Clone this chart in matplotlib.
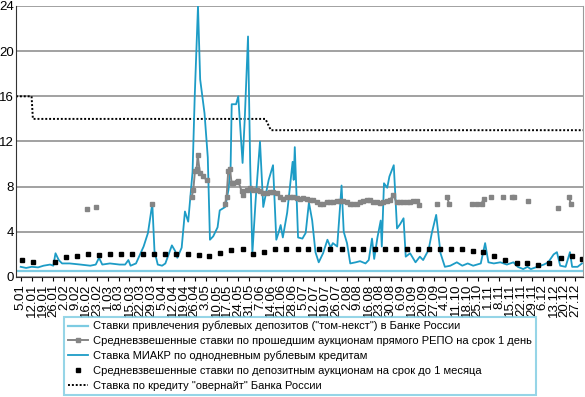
import numpy as np
import matplotlib; matplotlib.use("Agg")
import matplotlib.pyplot as plt
from matplotlib.lines import Line2D

plt.rcParams['font.family'] = ['Liberation Sans', 'DejaVu Sans']

# x axis: weeks counted from 5.01 (one tick per week)
week_labels = ["5.01", "12.01", "19.01", "26.01", "2.02", "9.02", "16.02", "23.02",
               "1.03", "8.03", "15.03", "22.03", "29.03", "5.04", "12.04", "19.04",
               "26.04", "3.05", "10.05", "17.05", "24.05", "31.05", "7.06", "14.06",
               "21.06", "28.06", "5.07", "12.07", "19.07", "26.07", "2.08", "9.08",
               "16.08", "23.08", "30.08", "6.09", "13.09", "20.09", "27.09", "4.10",
               "11.10", "18.10", "25.10", "1.11", "8.11", "15.11", "22.11", "29.11",
               "6.12", "13.12", "20.12", "27.12"]

# deposit rate "tom-next" (flat)
tn_weeks = [-0.43, 51.7]
tn_rates = [0.5, 0.5]

# MIACR overnight interbank rate
miacr_weeks = [0, 0.5, 1.0, 1.6, 2.1, 2.7, 3.0, 3.2, 3.5, 3.8,
               4.5, 5.5, 6.4, 6.9, 7.2, 7.5, 8.2, 9.1, 9.6, 9.9,
               10.1, 10.6, 11.3, 11.7, 12.1, 12.3, 12.6, 13.0, 13.3, 13.6,
               13.9, 14.2, 14.4, 14.8, 15.1, 15.4, 15.8, 16.0, 16.3, 16.5,
               16.9, 17.2, 17.4, 17.7, 18.1, 18.3, 18.8, 19.1, 19.3, 19.4,
               19.8, 20.0, 20.4, 20.6, 20.9, 21.1, 21.3, 21.6, 22.0, 22.3,
               22.8, 23.2, 23.5, 23.7, 23.9, 24.1, 24.5, 25.0, 25.1, 25.2,
               25.5, 25.9, 26.2, 26.5, 26.8, 27.1, 27.4, 27.8, 28.2, 28.5,
               28.7, 29.1, 29.5, 29.7, 30.0, 30.3, 30.8, 31.2, 31.7, 32.0,
               32.3, 32.5, 32.8, 33.1, 33.2, 33.4, 33.7, 33.9, 34.3, 34.6,
               34.9, 35.2, 35.4, 35.8, 36.3, 36.7, 37.0, 37.5, 37.8, 38.2,
               38.6, 39.0, 39.5, 40.1, 40.6, 41.1, 41.6, 42.3, 42.7, 43.0,
               43.5, 44.1, 44.7, 45.3, 45.7, 46.2, 46.6, 46.9, 47.5, 48.1,
               48.5, 49.0, 49.3, 49.6, 50.1, 50.5, 50.7, 51.2, 51.6]
miacr_rates = [0.9, 0.8, 0.9, 0.85, 1.0, 1.1, 1.0, 2.1, 1.5, 1.2,
               1.2, 1.1, 1.0, 1.1, 1.7, 1.1, 1.2, 1.1, 1.1, 1.5,
               1.0, 1.2, 2.7, 3.9, 6.5, 2.3, 1.1, 1.0, 1.2, 2.0,
               2.8, 2.3, 1.7, 2.6, 5.8, 4.9, 9.3, 16.0, 24.0, 17.5,
               14.5, 10.6, 3.3, 3.6, 4.4, 5.9, 6.2, 7.7, 9.8, 15.3,
               15.3, 16.0, 10.1, 14.0, 21.3, 10.0, 2.1, 6.8, 12.0, 6.2,
               8.6, 9.9, 3.3, 3.9, 4.6, 3.5, 5.7, 10.2, 8.6, 11.5,
               3.5, 3.4, 3.9, 6.6, 5.0, 2.2, 1.3, 2.1, 3.3, 2.6,
               3.0, 2.7, 8.1, 4.0, 3.0, 1.2, 1.3, 1.4, 1.2, 1.5,
               3.4, 1.6, 3.5, 5.0, 2.7, 8.3, 7.9, 8.9, 9.9, 4.3,
               4.7, 5.2, 1.8, 2.1, 1.3, 1.8, 1.5, 2.4, 3.9, 5.5,
               2.1, 0.9, 1.0, 1.3, 1.0, 1.2, 1.0, 1.2, 3.0, 1.3,
               1.2, 1.3, 1.1, 1.3, 0.9, 0.7, 0.9, 0.7, 0.9, 1.1,
               1.3, 2.0, 2.2, 1.0, 0.9, 2.2, 0.9, 0.9, 1.2]

# weighted average repo auction rates (nan = no auction)
repo_weeks = [6.07, 6.1, 6.92, 7.0, 12.1, 12.2,
              15.72, 15.87, 16.02, 16.18, 16.27, 16.48, 16.76, 17.1, 17.2,
              18.78, 18.93, 19.08, 19.24, 19.39, 19.54, 19.85, 20.0, 20.31, 20.46,
              20.77, 21.08, 21.38, 21.69, 22.0, 22.3, 22.61, 22.91, 23.22, 23.53,
              23.83, 24.14, 24.45, 24.75, 25.06, 25.37, 25.67, 25.98, 26.29, 26.59,
              26.9, 27.21, 27.51, 27.82, 28.13, 28.43, 28.73, 29.04, 29.35, 29.65,
              29.96, 30.26, 30.57, 30.88, 31.18, 31.49, 31.8, 32.1, 32.41, 32.72,
              33.02, 33.33, 33.64, 33.94, 34.25, 34.56, 34.86, 35.17, 35.48, 35.78,
              36.09, 36.4, 36.64, 36.7,
              38.23, 38.3, 39.21, 39.39, 39.5,
              41.45, 41.91, 42.37, 42.58, 42.7, 43.2, 43.3, 44.36, 44.4,
              45.13, 45.34, 45.4, 46.65, 46.7, 49.41, 49.5, 50.42, 50.58]
repo_rates = [6.0, np.nan, 6.2, np.nan, 6.5, np.nan,
              7.1, 7.7, 9.4, 9.6, 10.8, 9.2, 8.9, 8.6, np.nan,
              6.5, 7.1, 9.4, 9.6, 8.3, 8.3, 8.4, 8.5, 7.6, 7.3,
              7.7, 7.85, 7.7, 7.7, 7.6, 7.45, 7.4, 7.55, 7.5, 7.4,
              7.1, 6.95, 7.1, 7.1, 7.05, 7.0, 6.95, 7.0, 6.95, 6.85,
              6.8, 6.65, 6.5, 6.5, 6.65, 6.6, 6.65, 6.7, 6.7, 6.7,
              6.6, 6.5, 6.5, 6.5, 6.65, 6.7, 6.85, 6.8, 6.65, 6.6,
              6.55, 6.6, 6.75, 6.8, 7.25, 6.6, 6.6, 6.6, 6.6, 6.65,
              6.7, 6.7, 6.35, np.nan,
              6.5, np.nan, 7.05, 6.45, np.nan,
              6.45, 6.5, 6.5, 6.95, np.nan, 7.05, np.nan, 7.05, np.nan,
              7.05, 7.05, np.nan, 6.75, np.nan, 6.15, np.nan, 7.05, 6.45]

# weighted average deposit auction rates (up to 1 month)
dep_weeks = [0.1, 1.15, 3.15, 4.15, 5.15, 6.15, 7.2, 8.2, 9.25, 10.25,
             11.25, 12.25, 13.3, 14.3, 15.35, 16.35, 17.35, 18.35, 19.35, 20.4,
             21.35, 22.4, 23.4, 24.4, 25.45, 26.45, 27.45, 28.45, 29.55, 30.55,
             31.5, 32.55, 33.45, 34.5, 35.5, 36.5, 37.55, 38.55, 39.6, 40.55,
             41.6, 42.55, 43.55, 44.55, 45.6, 46.55, 47.55, 48.6, 49.65, 50.65,
             51.65]
dep_rates = [1.5, 1.35, 1.3, 1.75, 1.9, 2.0, 1.95, 2.0, 2.0, 2.0,
             2.0, 2.0, 2.0, 2.0, 2.0, 1.95, 1.9, 2.15, 2.4, 2.5,
             2.05, 2.25, 2.5, 2.5, 2.5, 2.5, 2.5, 2.5, 2.5, 2.5,
             2.5, 2.5, 2.5, 2.5, 2.5, 2.5, 2.5, 2.5, 2.5, 2.5,
             2.3, 2.2, 1.9, 1.5, 1.25, 1.25, 1.05, 1.25, 1.7, 1.9,
             1.6]

# Bank of Russia overnight credit rate
on_weeks = [-0.43, 1.0, 1.12, 22.5, 23.0, 51.7]
on_rates = [16, 16, 14, 14, 13, 13]

c_tn = "#7ccbe2"
c_miacr = "#1d9cc6"
c_repo = "#858585"

fig = plt.figure(figsize=(5.85, 3.97), dpi=100)
ax = fig.add_axes([0.0274, 0.3023, 0.9692, 0.6826])

ax.plot(tn_weeks, tn_rates, color=c_tn, lw=1.6)
ax.plot(on_weeks, on_rates, color="black", lw=1.4, ls=(0, (1, 1)))
ax.plot(miacr_weeks, miacr_rates, color=c_miacr, lw=1.3)
ax.plot(repo_weeks, repo_rates, color=c_repo, lw=1.4, marker="s", ms=3.2, mec=c_repo)
ax.plot(dep_weeks, dep_rates, ls="none", marker="s", ms=3.2, color="black")

ax.set_xlim(-0.43, 51.7)
ax.set_ylim(0, 24)
ax.set_yticks(range(0, 25, 4))
ax.set_xticks(range(len(week_labels)))
ax.set_xticklabels(week_labels, rotation=90, fontsize=9.5)
ax.tick_params(axis="y", length=0, labelsize=9.5, pad=1.5)
ax.tick_params(axis="x", length=3, pad=2)
ax.yaxis.grid(True, color="#9a9a9a", lw=1.3)
ax.set_axisbelow(True)
ax.spines["top"].set_visible(False)
ax.spines["right"].set_color("#9a9a9a")
for s in ["left", "bottom"]:
    ax.spines[s].set_color("#333333")

handles = [
    Line2D([], [], color=c_tn, lw=1.6),
    Line2D([], [], color=c_repo, lw=1.4, marker="s", ms=3),
    Line2D([], [], color=c_miacr, lw=1.3),
    Line2D([], [], color="black", ls="none", marker="s", ms=3.2),
    Line2D([], [], color="black", lw=1.4, ls=(0, (1, 1))),
]
labels = [
    "Ставки привлечения рублевых депозитов (\"том-некст\") в Банке России",
    "Средневзвешенные ставки по прошедшим аукционам прямого РЕПО на срок 1 день",
    "Ставка МИАКР по однодневным рублевым кредитам",
    "Средневзвешенные ставки по депозитным аукционам на срок до 1 месяца",
    "Ставка по кредиту \"овернайт\" Банка России",
]
leg = fig.legend(handles, labels, loc="lower left", bbox_to_anchor=(0.109, 0.005),
                 fontsize=8.0, frameon=True, fancybox=False, handlelength=1.8,
                 handletextpad=0.4, labelspacing=0.42, borderpad=0.4,
                 borderaxespad=0)
leg.get_frame().set_edgecolor(c_tn)
leg.get_frame().set_linewidth(1.5)

fig.savefig("out.png", dpi=100)
